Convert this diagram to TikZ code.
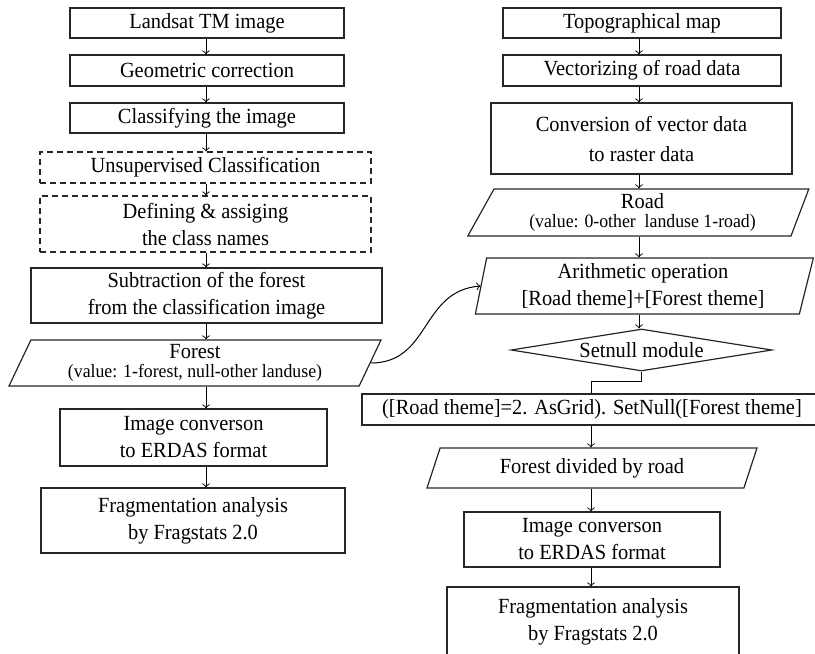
\documentclass[tikz,border=0pt]{standalone}
\usepackage{fontspec}
\setmainfont{Liberation Serif}[FakeStretch=0.945]
\usetikzlibrary{shapes.geometric}

\newcommand{\valtxt}[1]{{\fontsize{9.4}{10}\selectfont #1}}

\begin{document}
\begin{tikzpicture}[x=0.5pt, y=-0.5pt, line width=0.5pt,
  procbox/.style={draw=black!85, line width=0.6pt, align=center, inner sep=1pt,
    font=\fontsize{10.8}{13.5}\selectfont},
  dashbox/.style={procbox, dash pattern=on 3pt off 2pt},
  databox/.style={procbox, trapezium, trapezium left angle=62,
    trapezium right angle=118, trapezium stretches body},
  decbox/.style={procbox, diamond, aspect=6.2, inner sep=0pt}]

\useasboundingbox (0,0) rectangle (815,654);
\clip (0,0) rectangle (815,654);

\coordinate (colL) at (206,0);
\coordinate (colR) at (639,0);
\coordinate (colS) at (591,0);

% left column
\node[procbox, minimum width=137pt, minimum height=15pt] (landsat) at (207,23) {Landsat TM image};
\node[procbox, minimum width=137pt, minimum height=15.5pt] (geom) at (207,70.5) {Geometric correction};
\node[procbox, minimum width=137pt, minimum height=15pt] (classify) at (207,118) {Classifying the image};
\node[dashbox, minimum width=165.5pt, minimum height=15.5pt] (unsup) at (205.5,167.5) {Unsupervised Classification};
\node[dashbox, minimum width=165.5pt, minimum height=28pt] (define) at (205.5,224) {Defining \& assiging\\the class names};
\node[procbox, minimum width=175.5pt, minimum height=27.5pt] (subtr) at (206.5,295.5) {Subtraction of the forest\\from the classification image};
\node[databox, minimum width=186pt, minimum height=23pt] (forest) at (195,363) {Forest\\[-4pt]\valtxt{(value: 1-forest, null-other landuse)}};
\node[procbox, minimum width=133.5pt, minimum height=28.5pt] (imgconv) at (193.5,437.5) {Image converson\\to ERDAS format};
\node[procbox, minimum width=152pt, minimum height=32.5pt] (frag) at (193,520.5) {Fragmentation analysis\\by Fragstats 2.0};

% right column
\node[procbox, minimum width=139pt, minimum height=15pt] (topo) at (642,23) {Topographical map};
\node[procbox, minimum width=139pt, minimum height=15.5pt] (vector) at (642,70.5) {Vectorizing of road data};
\node[procbox, minimum width=150.5pt, minimum height=35.5pt, font=\fontsize{10.8}{15}\selectfont] (convert) at (641.5,138.5) {Conversion of vector data\\to raster data};
\node[databox, minimum width=170.5pt, minimum height=23.5pt, trapezium left angle=58, trapezium right angle=113] (road) at (642.5,212.5) {Road\\[-4pt]\valtxt{(value: 0-other\ \ landuse 1-road)}};
\node[databox, minimum width=169pt, minimum height=28pt, trapezium left angle=77, trapezium right angle=106] (arith) at (643,286) {Arithmetic operation\\{}[Road theme]+[Forest theme]};
\node[decbox, minimum width=130.5pt, minimum height=21pt] (setnull) at (641.5,350) {Setnull module};
\node[procbox, minimum width=230pt, minimum height=15.5pt] (nullbox) at (592,409.5) {([Road theme]=2. AsGrid). SetNull([Forest theme]};
\node[databox, minimum width=165pt, minimum height=20pt, trapezium left angle=61, trapezium right angle=119] (divided) at (592,468) {Forest divided by road};
\node[procbox, minimum width=128pt, minimum height=27.5pt] (imgconv2) at (592,539.5) {Image converson\\to ERDAS format};
\node[procbox, minimum width=146pt, minimum height=35pt] (frag2) at (593,622) {Fragmentation analysis\\by Fragstats 2.0};

% connectors
\foreach \a/\b in {landsat/geom, geom/classify, classify/unsup, unsup/define,
  define/subtr, subtr/forest, forest/imgconv, imgconv/frag}
  \draw[->] (\a.south -| colL) -- (\b.north -| colL);
\foreach \a/\b in {topo/vector, vector/convert, convert/road, road/arith, arith/setnull}
  \draw[->] (\a.south -| colR) -- (\b.north -| colR);
\draw (setnull.south) -- ++(0,10) -| (nullbox.north -| colS);
\foreach \a/\b in {nullbox/divided, divided/imgconv2, imgconv2/frag2}
  \draw[->] (\a.south -| colS) -- (\b.north -| colS);
\draw[->] (forest.east) .. controls +(60,0) and +(-60,5) .. (arith.west);

\end{tikzpicture}
\end{document}
